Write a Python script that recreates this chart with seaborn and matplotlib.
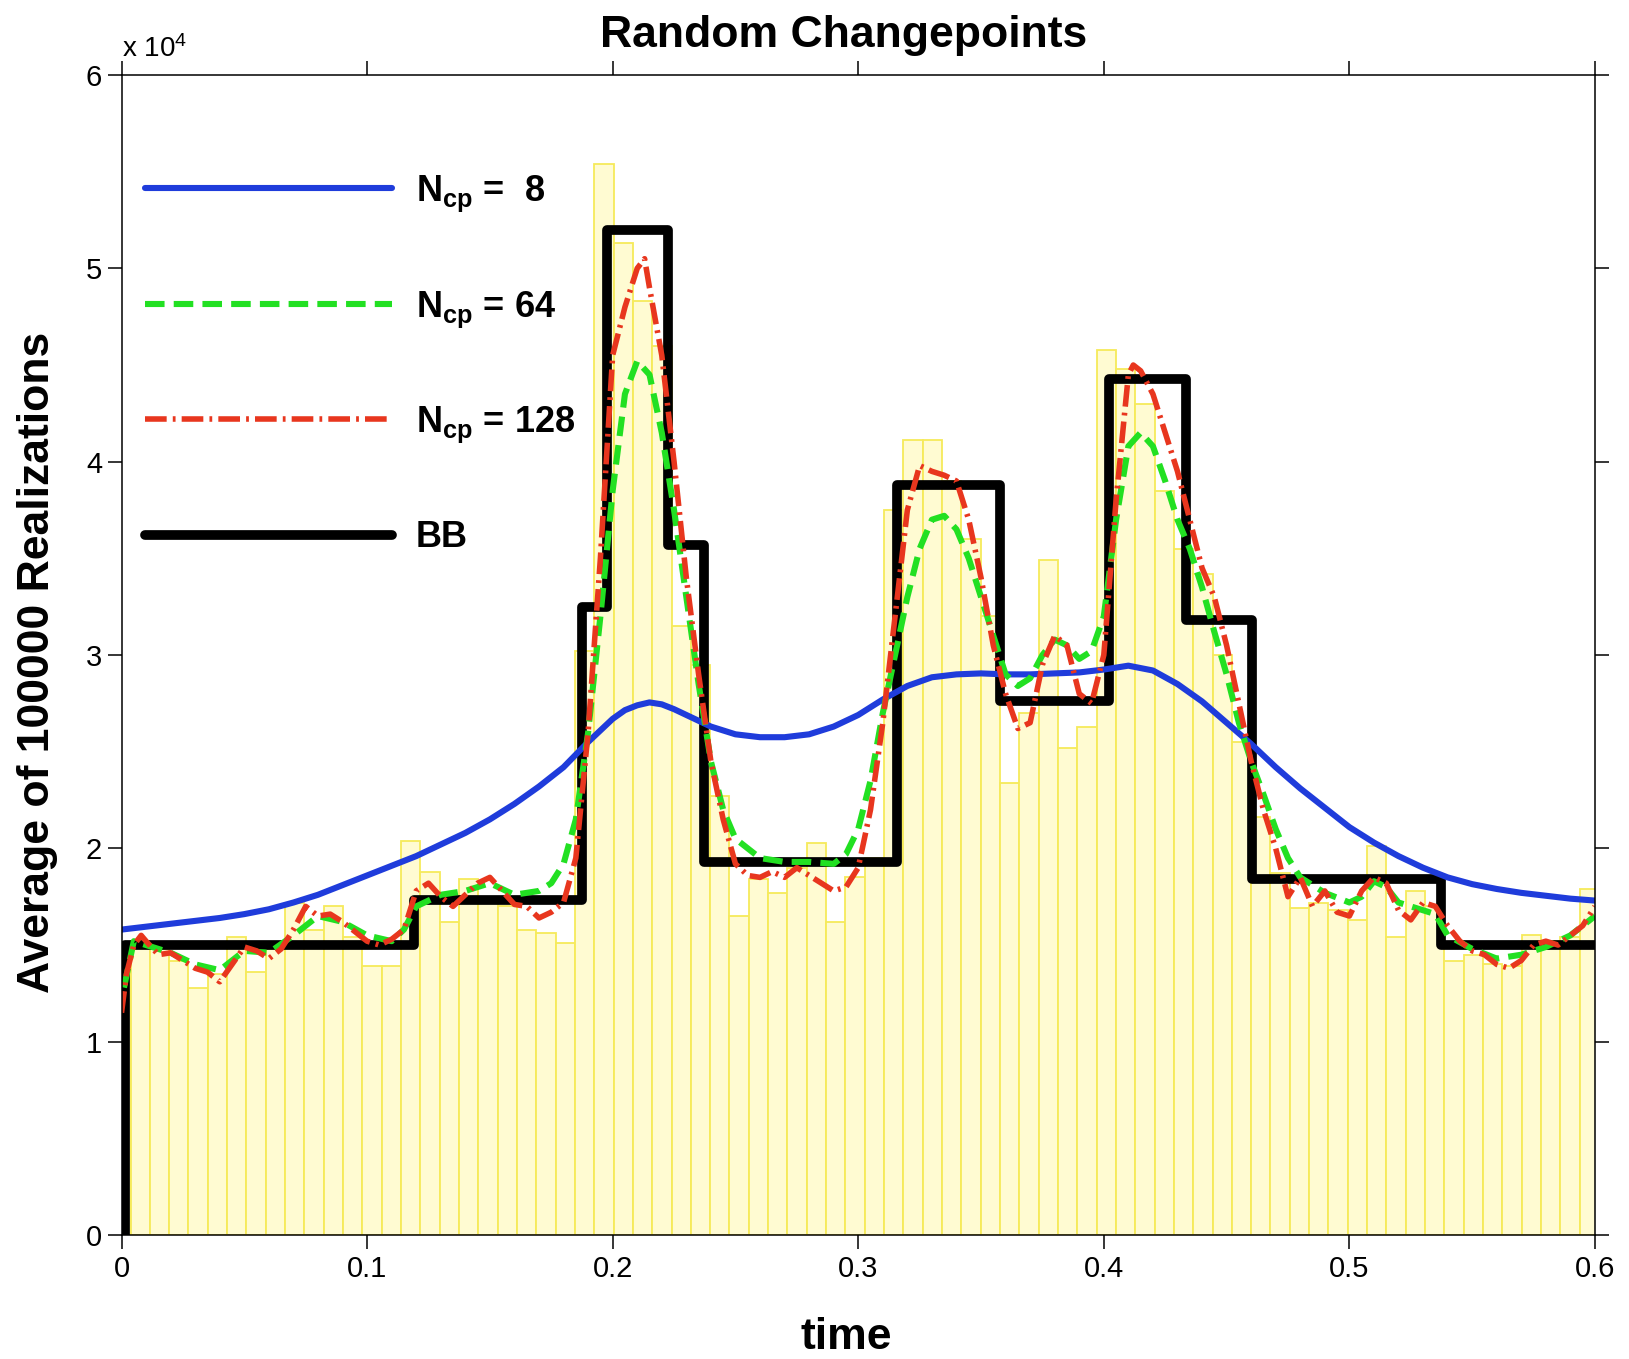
import numpy as np
import pandas as pd
import matplotlib
matplotlib.use("Agg")
import matplotlib.pyplot as plt
import seaborn as sns

# ---------------- data ----------------
# histogram (bar heights, units of 1e4), 77 bins, first and last clipped by the axes
bin_width = 0.007868
first_edge = 0.00366 - 0.007868
bar_heights = [1.45, 1.52, 1.48, 1.42, 1.28, 1.35, 1.54, 1.36, 1.48, 1.72,
               1.58, 1.70, 1.54, 1.39, 1.39, 2.04, 1.88, 1.62, 1.84, 1.75,
               1.70, 1.58, 1.56, 1.51, 3.02, 5.54, 5.13, 4.83, 4.60, 3.15,
               2.95, 2.27, 1.65, 1.84, 1.77, 1.90, 2.03, 1.62, 1.85, 1.95,
               3.75, 4.11, 4.11, 3.90, 3.60, 3.20, 2.34, 2.70, 3.49, 2.52,
               2.63, 4.58, 4.48, 4.30, 3.85, 3.55, 3.42, 3.00, 2.55, 2.16,
               1.875, 1.69, 1.72, 1.68, 1.63, 2.01, 1.54, 1.78, 1.70, 1.42,
               1.45, 1.40, 1.39, 1.55, 1.52, 1.54, 1.79]

# Bayesian blocks (BB) step function
bb_edges = [0.0015, 0.0015, 0.1189, 0.1875, 0.1976, 0.2226, 0.2370, 0.3157,
            0.3576, 0.4020, 0.4334, 0.4604, 0.5375, 0.6000]
bb_values = [0.0, 1.50, 1.735, 3.25, 5.20, 3.57, 1.93, 3.88,
             2.76, 4.43, 3.18, 1.84, 1.50, 1.50]

# N_cp = 8
blue_x = [0, 0.01, 0.02, 0.03, 0.04, 0.05, 0.06, 0.07, 0.08, 0.09, 0.10, 0.11,
          0.12, 0.13, 0.14, 0.15, 0.16, 0.17, 0.18, 0.19, 0.20, 0.205, 0.21,
          0.215, 0.22, 0.225, 0.23, 0.24, 0.25, 0.26, 0.27, 0.28, 0.29, 0.30,
          0.31, 0.32, 0.33, 0.34, 0.35, 0.36, 0.37, 0.38, 0.39, 0.40, 0.41,
          0.42, 0.43, 0.44, 0.45, 0.46, 0.47, 0.48, 0.49, 0.50, 0.51, 0.52,
          0.53, 0.54, 0.55, 0.56, 0.57, 0.58, 0.59, 0.60]
blue_y = [1.58, 1.595, 1.61, 1.625, 1.64, 1.66, 1.685, 1.72, 1.76, 1.81, 1.86,
          1.91, 1.96, 2.02, 2.08, 2.15, 2.23, 2.32, 2.42, 2.55, 2.67, 2.715,
          2.74, 2.755, 2.745, 2.72, 2.69, 2.63, 2.59, 2.575, 2.575, 2.59, 2.63,
          2.69, 2.77, 2.84, 2.885, 2.90, 2.905, 2.90, 2.90, 2.905, 2.91, 2.925,
          2.945, 2.92, 2.85, 2.76, 2.65, 2.54, 2.42, 2.31, 2.21, 2.11, 2.03,
          1.96, 1.90, 1.85, 1.815, 1.79, 1.77, 1.755, 1.74, 1.73]

# N_cp = 64
green_x = [0.001, 0.005, 0.01, 0.02, 0.03, 0.04, 0.05, 0.06, 0.07, 0.08, 0.09,
           0.10, 0.11, 0.115, 0.12, 0.13, 0.14, 0.15, 0.16, 0.17, 0.175, 0.18,
           0.185, 0.19, 0.195, 0.20, 0.205, 0.21, 0.215, 0.22, 0.225, 0.23,
           0.235, 0.24, 0.245, 0.25, 0.26, 0.27, 0.28, 0.29, 0.295, 0.30,
           0.305, 0.31, 0.315, 0.32, 0.325, 0.33, 0.335, 0.34, 0.345, 0.35,
           0.355, 0.36, 0.365, 0.37, 0.375, 0.38, 0.385, 0.39, 0.395, 0.40,
           0.405, 0.41, 0.415, 0.42, 0.425, 0.43, 0.435, 0.44, 0.445, 0.45,
           0.455, 0.46, 0.465, 0.47, 0.475, 0.48, 0.49, 0.50, 0.505, 0.51,
           0.515, 0.52, 0.53, 0.535, 0.54, 0.55, 0.56, 0.57, 0.58, 0.59, 0.60]
green_y = [1.28, 1.52, 1.50, 1.46, 1.40, 1.37, 1.47, 1.46, 1.55, 1.65, 1.62,
           1.55, 1.52, 1.58, 1.70, 1.76, 1.78, 1.82, 1.76, 1.78, 1.82, 1.92,
           2.15, 2.60, 3.20, 3.85, 4.35, 4.52, 4.45, 4.15, 3.75, 3.30,
           2.85, 2.45, 2.20, 2.05, 1.95, 1.93, 1.93, 1.92, 1.97, 2.10,
           2.35, 2.70, 3.00, 3.30, 3.55, 3.70, 3.72, 3.65, 3.50, 3.30,
           3.10, 2.90, 2.84, 2.88, 3.00, 3.08, 3.05, 2.98, 3.02, 3.20,
           3.70, 4.08, 4.15, 4.08, 3.90, 3.70, 3.55, 3.35, 3.12, 2.90,
           2.65, 2.45, 2.28, 2.10, 1.95, 1.85, 1.77, 1.72, 1.75, 1.83,
           1.80, 1.72, 1.68, 1.66, 1.55, 1.48, 1.43, 1.45, 1.49, 1.55, 1.65]

# N_cp = 128
red_x = [0.0, 0.002, 0.005, 0.008, 0.01, 0.015, 0.02, 0.025, 0.03, 0.035, 0.04,
         0.045, 0.05, 0.055, 0.06, 0.065, 0.07, 0.075, 0.08, 0.085, 0.09, 0.095,
         0.10, 0.105, 0.11, 0.115, 0.12, 0.125, 0.13, 0.135, 0.14, 0.145, 0.15,
         0.155, 0.16, 0.165, 0.17, 0.175, 0.18, 0.185, 0.19, 0.195, 0.20, 0.205,
         0.21, 0.213, 0.215, 0.22, 0.225, 0.23, 0.235, 0.24, 0.245, 0.25, 0.255,
         0.26, 0.265, 0.27, 0.275, 0.28, 0.285, 0.29, 0.295, 0.30, 0.305, 0.31,
         0.315, 0.32, 0.325, 0.33, 0.335, 0.34, 0.345, 0.35, 0.355, 0.36, 0.365,
         0.37, 0.375, 0.38, 0.385, 0.39, 0.395, 0.40, 0.405, 0.41, 0.412, 0.415,
         0.42, 0.425, 0.43, 0.435, 0.44, 0.445, 0.45, 0.455, 0.46, 0.465, 0.47,
         0.475, 0.48, 0.485, 0.49, 0.495, 0.50, 0.505, 0.51, 0.515, 0.52, 0.525,
         0.53, 0.535, 0.54, 0.545, 0.55, 0.555, 0.56, 0.565, 0.57, 0.575, 0.58,
         0.585, 0.59, 0.595, 0.60]
red_y = [1.15, 1.35, 1.50, 1.55, 1.52, 1.45, 1.46, 1.42, 1.38, 1.36, 1.31,
         1.40, 1.49, 1.47, 1.43, 1.48, 1.58, 1.70, 1.65, 1.66, 1.62, 1.57,
         1.52, 1.50, 1.53, 1.58, 1.78, 1.82, 1.75, 1.70, 1.76, 1.82, 1.85,
         1.78, 1.71, 1.70, 1.64, 1.67, 1.72, 1.95, 2.60, 3.50, 4.55, 4.80,
         5.00, 5.05, 4.90, 4.55, 4.00, 3.40, 2.90, 2.45, 2.15, 1.92, 1.86,
         1.85, 1.88, 1.85, 1.90, 1.86, 1.82, 1.78, 1.80, 1.90, 2.20, 2.65,
         3.20, 3.75, 3.98, 3.95, 3.93, 3.90, 3.70, 3.40, 3.05, 2.80, 2.62,
         2.65, 2.95, 3.10, 3.05, 2.80, 2.75, 3.00, 3.80, 4.45, 4.50, 4.47,
         4.35, 4.15, 3.95, 3.70, 3.45, 3.30, 3.05, 2.75, 2.45, 2.20, 2.00,
         1.75, 1.85, 1.70, 1.78, 1.67, 1.65, 1.78, 1.85, 1.82, 1.68, 1.63,
         1.72, 1.70, 1.60, 1.52, 1.47, 1.45, 1.40, 1.38, 1.42, 1.50, 1.52,
         1.50, 1.55, 1.60, 1.70]

scale = 1e4
x_ticks = [0, 0.1, 0.2, 0.3, 0.4, 0.5, 0.6]
x_tick_labels = ["0", "0.1", "0.2", "0.3", "0.4", "0.5", "0.6"]
y_ticks = [0, 1, 2, 3, 4, 5, 6]
y_tick_labels = ["0", "1", "2", "3", "4", "5", "6"]
legend_labels = [r"$\mathbf{N}_{\mathbf{cp}}$ =  8", r"$\mathbf{N}_{\mathbf{cp}}$ = 64",
                 r"$\mathbf{N}_{\mathbf{cp}}$ = 128", "BB"]

# ---------------- style ----------------
sns.set_style("ticks")
plt.rcParams["font.family"] = ["Liberation Sans", "DejaVu Sans"]
plt.rcParams["mathtext.fontset"] = "custom"
plt.rcParams["mathtext.rm"] = "Liberation Sans"
plt.rcParams["mathtext.bf"] = "Liberation Sans:bold"
plt.rcParams["mathtext.it"] = "Liberation Sans:italic"
plt.rcParams["text.color"] = "black"
plt.rcParams["axes.labelcolor"] = "black"

fig = plt.figure(figsize=(16.29, 13.59), dpi=100)
ax = fig.add_axes([0.0746, 0.0912, 0.9791 - 0.0746, 0.9448 - 0.0912])

edges = first_edge + np.arange(len(bar_heights) + 1) * bin_width
centers = edges[:-1] + bin_width / 2
hist_df = pd.DataFrame({"t": centers, "h": np.array(bar_heights) * scale})
sns.histplot(data=hist_df, x="t", weights="h", bins=list(edges),
             color="#FFFBD2", edgecolor="#F6EA5A", linewidth=1.3, alpha=1,
             ax=ax)

sns.lineplot(x=bb_edges, y=np.array(bb_values) * scale, ax=ax, color="black",
             linewidth=7.0, drawstyle="steps-post", estimator=None, sort=False)
h_bb = ax.lines[-1]
sns.lineplot(x=blue_x, y=np.array(blue_y) * scale, ax=ax, color="#1F3CDB",
             linewidth=4.4, estimator=None, sort=False)
h_blue = ax.lines[-1]
sns.lineplot(x=green_x, y=np.array(green_y) * scale, ax=ax, color="#22E022",
             linewidth=4.4, linestyle=(0, (3.2, 1.5)), estimator=None, sort=False)
h_green = ax.lines[-1]
sns.lineplot(x=red_x, y=np.array(red_y) * scale, ax=ax, color="#E8361E",
             linewidth=4.0, linestyle=(0, (3.9, 1.1, 0.5, 1.1)), estimator=None,
             sort=False)
h_red = ax.lines[-1]

ax.set_xlim(0, 0.6)
ax.set_ylim(0, 6 * scale)
ax.set_xticks(x_ticks)
ax.set_xticklabels(x_tick_labels)
ax.set_yticks(np.array(y_ticks) * scale)
ax.set_yticklabels(y_tick_labels)
ax.tick_params(axis="both", which="both", direction="out", length=10, width=1.1,
               labelsize=21, pad=4, top=True, right=True, colors="black")
for s in ax.spines.values():
    s.set_visible(True)
    s.set_linewidth(1.1)
    s.set_color("black")

ax.set_xlabel("time", fontsize=32, fontweight="bold", color="black")
ax.xaxis.set_label_coords(0.492, -0.071)
ax.set_ylabel("Average of 100000 Realizations", fontsize=32, fontweight="bold",
              color="black")
ax.yaxis.set_label_coords(-0.043, 0.494)
ax.set_title("Random Changepoints", fontsize=32, fontweight="bold", x=0.49,
             y=1.0243, pad=0, color="black")
ax.text(0.0, 1.0155, r"x 10$^{4}$", transform=ax.transAxes, fontsize=20,
        ha="left", va="baseline", color="black")

leg = ax.legend([h_blue, h_green, h_red, h_bb], legend_labels, loc="upper left",
                bbox_to_anchor=(0.016, 0.915), frameon=False, borderaxespad=0,
                borderpad=0, handlelength=6.84, handletextpad=0.66,
                labelspacing=2.08, prop={"weight": "bold", "size": 26})
for t in leg.get_texts():
    t.set_color("black")

fig.savefig("out.png", dpi=100, facecolor="white")
